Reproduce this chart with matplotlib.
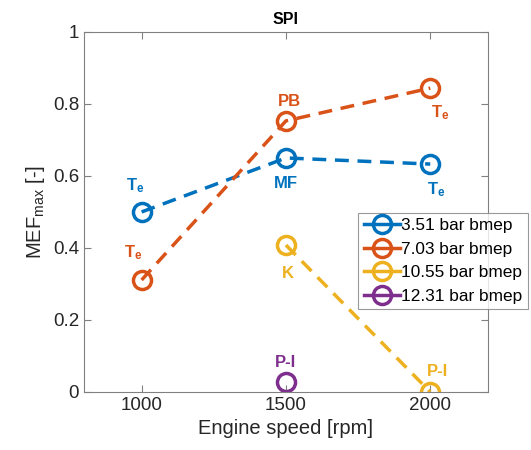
import matplotlib.pyplot as plt

plt.rcParams['font.family'] = ['Liberation Sans', 'DejaVu Sans']
plt.rcParams['mathtext.fontset'] = 'custom'
plt.rcParams['mathtext.rm'] = 'Liberation Sans'
plt.rcParams['mathtext.bf'] = 'Liberation Sans:bold'

# ====== DATA ======
speed = [1000, 1500, 2000]
bmep_351 = [0.50, 0.65, 0.633]
bmep_703 = [0.311, 0.753, 0.844]
speed_1055 = [1500, 2000]
bmep_1055 = [0.408, 0.0]
speed_1231 = [1500]
bmep_1231 = [0.028]

labels = ["3.51 bar bmep", "7.03 bar bmep", "10.55 bar bmep", "12.31 bar bmep"]
colors = ["#0072BD", "#D95319", "#EDB120", "#7E2F8E"]

# point annotations: (x, y, text, color index)
notes = [
    (977, 0.572, r'$\mathbf{T_e}$', 0),
    (1500, 0.58, 'MF', 0),
    (2022, 0.561, r'$\mathbf{T_e}$', 0),
    (1512, 0.806, 'PB', 1),
    (2036, 0.775, r'$\mathbf{T_e}$', 1),
    (970, 0.386, r'$\mathbf{T_e}$', 1),
    (1508, 0.33, 'K', 2),
    (2026, 0.058, 'P-I', 2),
    (1500, 0.083, 'P-I', 3),
]

# ====== PLOTTING ======
fig = plt.figure(figsize=(5.31, 4.5), dpi=100)
ax = fig.add_axes([0.158, 0.129, 0.761, 0.8])

style = dict(linestyle='--', linewidth=2.5, marker='o', markersize=13,
             markerfacecolor='none', markeredgewidth=2.5, dashes=(4, 2.5))
ax.plot(speed, bmep_351, color=colors[0], label=labels[0], **style)
ax.plot(speed, bmep_703, color=colors[1], label=labels[1], **style)
ax.plot(speed_1055, bmep_1055, color=colors[2], label=labels[2], **style)
ax.plot(speed_1231, bmep_1231, color=colors[3], label=labels[3], **style)

for x, y, t, c in notes:
    ax.text(x, y, t, color=colors[c], fontsize=12, fontweight='bold',
            ha='center', va='center')

ax.set_xlim(800, 2200)
ax.set_ylim(0, 1)
ax.set_xticks([1000, 1500, 2000])
ax.set_yticks([0, 0.2, 0.4, 0.6, 0.8, 1])
ax.set_yticklabels(['0', '0.2', '0.4', '0.6', '0.8', '1'])
ax.tick_params(direction='in', labelsize=13.5, labelcolor='#262626',
               color='#808080', length=5, top=True, right=True)
for s in ax.spines.values():
    s.set_color('#808080')
    s.set_linewidth(0.8)

ax.set_xlabel("Engine speed [rpm]", fontsize=14.5, color='#262626')
ax.set_ylabel(r"MEF$_{\mathrm{max}}$ [-]", fontsize=14.5, color='#262626')
ax.set_title("SPI", fontsize=11.5, fontweight='bold')

leg = fig.legend(loc='upper right', bbox_to_anchor=(0.994, 0.527),
                 fontsize=12.4, frameon=True, fancybox=False, handlelength=2.1,
                 borderpad=0.3, labelspacing=0.5, handletextpad=0.1,
                 borderaxespad=0)
leg.get_frame().set_edgecolor('#808080')
leg.get_frame().set_linewidth(0.8)
for h in leg.get_lines():
    h.set_linestyle('-')

plt.savefig("out.png")
